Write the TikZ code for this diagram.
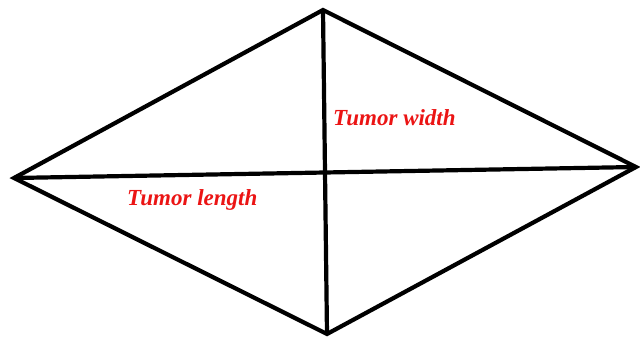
\documentclass[tikz,border=0pt]{standalone}
\usepackage{fontspec}
\setmainfont{Liberation Serif}
\usepackage{xcolor}
\usetikzlibrary{positioning}
\definecolor{lbl}{RGB}{235,20,20}

\begin{document}
\begin{tikzpicture}[x=1pt,y=-1pt,line join=miter]
  \useasboundingbox (0,0) rectangle (640,339);
  \tikzset{edge/.style={line width=4.2pt,black},
           tumorlabel/.style={font=\fontsize{23}{26}\selectfont\bfseries\itshape,text=lbl,inner sep=0pt}}
  \coordinate (w) at (14,178); \coordinate (n) at (323,10);
  \coordinate (e) at (636,167); \coordinate (s) at (327,334);
  \draw[edge] (w)--(n)--(e)--(s)--cycle;
  \draw[edge] (n)--(s);
  \draw[edge] (w)--(e);
  \node[tumorlabel,anchor=west] (width) at (333,118) {Tumor width};
  \node[tumorlabel,anchor=west] (length) at (127,200) {Tumor length};
\end{tikzpicture}
\end{document}
